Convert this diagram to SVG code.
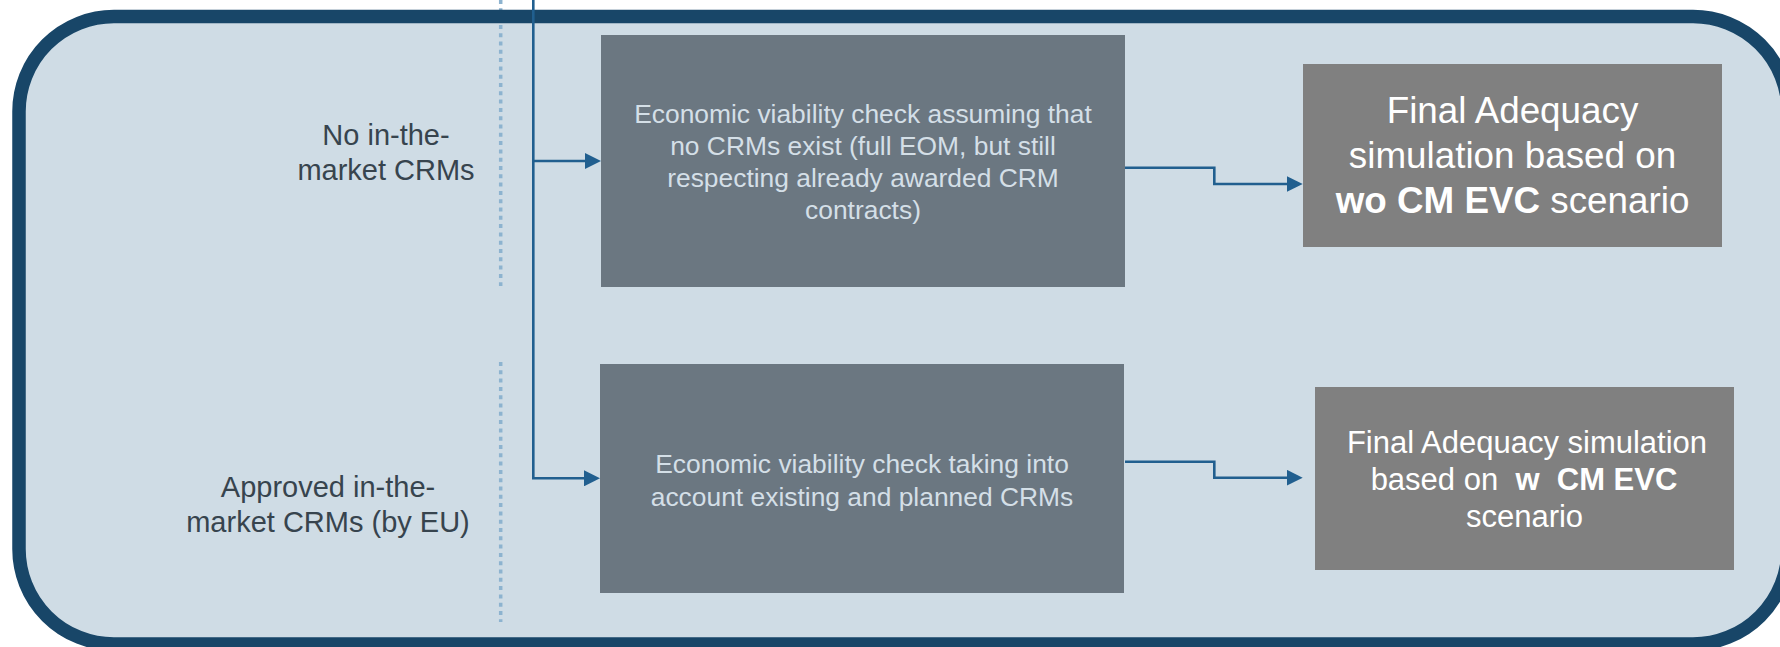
<svg xmlns="http://www.w3.org/2000/svg" width="1780" height="647" viewBox="0 0 1780 647">
  <defs>
    <style>
      .label { font-family: "Liberation Sans", Arial, sans-serif; font-size: 29px; fill: #37444E; text-anchor: middle; }
      .evc-box { fill: #6B7781; }
      .evc-text { font-family: "Liberation Sans", Arial, sans-serif; font-size: 26.4px; fill: #D4DFE7; text-anchor: middle; }
      .sim-box { fill: #808080; }
      .sim-text { font-family: "Liberation Sans", Arial, sans-serif; fill: #FFFFFF; text-anchor: middle; }
      .b { font-weight: bold; }
      .flow { fill: none; stroke: #215F8F; stroke-width: 2.6; marker-end: url(#arrow); }
      .divider { stroke: #8DB3CF; stroke-width: 3.5; stroke-dasharray: 4 4.3; fill: none; }
    </style>
    <marker id="arrow" markerUnits="userSpaceOnUse" viewBox="0 0 16 16" markerWidth="16" markerHeight="16" refX="12" refY="8" orient="auto">
      <path d="M0,0 L16,8 L0,16 Z" fill="#215F8F"/>
    </marker>
  </defs>

  <rect width="1780" height="647" fill="#FFFFFF"/>

  <!-- panel background -->
  <rect id="panel-fill" x="19" y="16.5" width="1769" height="627.5" rx="95" ry="95" fill="#CFDCE5"/>

  <!-- dotted row dividers -->
  <g id="dividers">
    <line class="divider" x1="500.7" y1="0" x2="500.7" y2="286"/>
    <line class="divider" x1="500.7" y1="362" x2="500.7" y2="622"/>
  </g>

  <!-- panel frame -->
  <rect id="panel-frame" x="19" y="16.5" width="1769" height="627.5" rx="95" ry="95" fill="none" stroke="#184668" stroke-width="13.5"/>

  <!-- row labels -->
  <g id="label-no-crm">
    <text class="label" x="386" y="145">No in-the-</text>
    <text class="label" x="386" y="179.5">market CRMs</text>
  </g>
  <g id="label-approved-crm">
    <text class="label" x="328" y="496.7">Approved in-the-</text>
    <text class="label" x="328" y="531.7">market CRMs (by EU)</text>
  </g>

  <!-- economic viability checks -->
  <g id="evc-without-cm">
    <rect class="evc-box" x="601" y="35" width="524" height="252"/>
    <text class="evc-text" x="863" y="123">Economic viability check assuming that</text>
    <text class="evc-text" x="863" y="155">no CRMs exist (full EOM, but still</text>
    <text class="evc-text" x="863" y="187">respecting already awarded CRM</text>
    <text class="evc-text" x="863" y="219">contracts)</text>
  </g>
  <g id="evc-with-cm">
    <rect class="evc-box" x="600" y="364" width="524" height="229"/>
    <text class="evc-text" x="862" y="473">Economic viability check taking into</text>
    <text class="evc-text" x="862" y="506">account existing and planned CRMs</text>
  </g>

  <!-- final adequacy simulations -->
  <g id="sim-wo-cm">
    <rect class="sim-box" x="1303" y="64" width="419" height="183"/>
    <text class="sim-text" x="1512.5" y="123.3" font-size="36.8">Final Adequacy</text>
    <text class="sim-text" x="1512.5" y="168.3" font-size="36.8">simulation based on</text>
    <text class="sim-text" x="1512.5" y="212.5" font-size="36.8"><tspan class="b">wo CM EVC</tspan> scenario</text>
  </g>
  <g id="sim-w-cm">
    <rect class="sim-box" x="1315" y="387" width="419" height="183"/>
    <text class="sim-text" x="1527" y="452.7" font-size="31">Final Adequacy simulation</text>
    <text class="sim-text" x="1524" y="490" font-size="31" xml:space="preserve">based on  <tspan class="b">w</tspan>  <tspan class="b">CM EVC</tspan></text>
    <text class="sim-text" x="1524.5" y="527" font-size="31">scenario</text>
  </g>

  <!-- connectors -->
  <g id="connectors">
    <polyline class="flow" points="533.3,0 533.3,161 597,161"/>
    <polyline class="flow" points="533.3,161 533.3,478.3 596,478.3"/>
    <polyline class="flow" points="1125,167.7 1214.3,167.7 1214.3,184 1298.7,184"/>
    <polyline class="flow" points="1125,461.7 1214.3,461.7 1214.3,477.7 1298.7,477.7"/>
  </g>
</svg>
